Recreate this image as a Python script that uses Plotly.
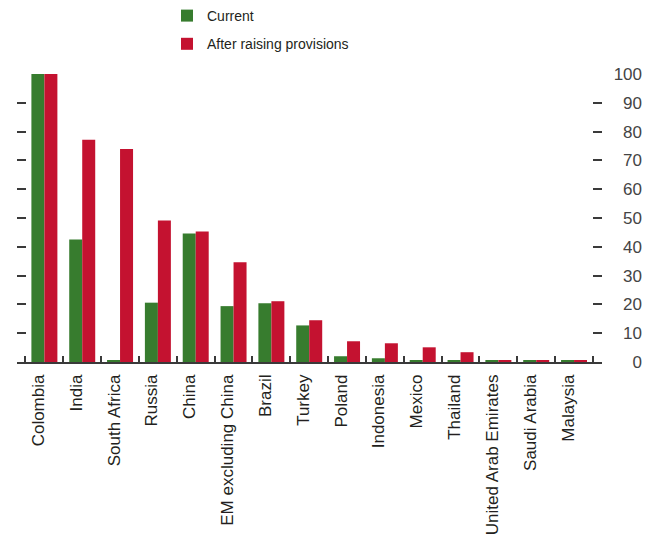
import plotly.graph_objects as go

categories = ["Colombia", "India", "South Africa", "Russia", "China", "EM excluding China",
              "Brazil", "Turkey", "Poland", "Indonesia", "Mexico", "Thailand",
              "United Arab Emirates", "Saudi Arabia", "Malaysia"]
current = [100, 42.5, 0.4, 20.6, 44.6, 19.4, 20.4, 12.7, 2.0, 1.3, 0.6, 0.6, 0.4, 0.4, 0.4]
after = [100, 77.2, 74.0, 49.1, 45.3, 34.6, 21.1, 14.5, 7.2, 6.5, 5.1, 3.4, 0.4, 0.4, 0.4]
y_ticks = [0, 10, 20, 30, 40, 50, 60, 70, 80, 90, 100]

FONT = "Liberation Sans"
GREEN = "#377C2E"
RED = "#C41230"
AX = "#3a3a3a"

fig = go.Figure()
fig.add_trace(go.Bar(x=categories, y=current, name="Current", marker_color=GREEN,
                     marker_line_width=0, legendgroup="a"))
fig.add_trace(go.Bar(x=categories, y=after, name="After raising provisions", marker_color=RED,
                     marker_line_width=0, legendgroup="b"))
# invisible helpers to activate the extra axes
fig.add_trace(go.Scatter(x=[categories[0]], y=[0], yaxis="y2", mode="markers",
                         marker=dict(opacity=0), showlegend=False, hoverinfo="skip"))
fig.add_trace(go.Scatter(x=[0], y=[0], xaxis="x2", yaxis="y3", mode="markers",
                         marker=dict(opacity=0), showlegend=False, hoverinfo="skip"))

# page body has an 8px margin, so the figure is laid out 8px up/left
W, H = 644, 531
left, right_axis, right_lab = 8.5, 594, 637
top, bottom = 66, 354
plot_w = right_lab - left
fig.update_layout(
    width=W, height=H,
    margin=dict(l=left, r=W - right_lab, t=top, b=H - bottom, autoexpand=False),
    paper_bgcolor="white", plot_bgcolor="rgba(0,0,0,0)",
    barmode="group", bargap=0.313, bargroupgap=0,
    font=dict(family=FONT, size=17, color="#231F20"),
    showlegend=True,
    legend=dict(xref="container", yref="container", x=159 / W, y=1 - 22 / H,
                xanchor="left", yanchor="middle", font=dict(size=14), tracegroupgap=7,
                bgcolor="rgba(0,0,0,0)"),
    xaxis=dict(domain=[0, (right_axis - left) / plot_w], range=[-0.724, 14.74],
               showline=True, linecolor=AX, linewidth=1.5,
               ticks="inside", ticklen=6, tickcolor=AX, tickwidth=1.5,
               tickson="boundaries", tickangle=-90, showgrid=False,
               ticklabelstandoff=4, ticklabelshift=-6, tickfont=dict(size=17)),
    xaxis2=dict(domain=[0, 1], range=[0, 1], visible=False, anchor="y3"),
    yaxis=dict(range=[0, 100], tickvals=y_ticks, showticklabels=False,
               ticks="inside", ticklen=9, tickcolor=AX, tickwidth=1.5,
               showgrid=False, zeroline=False, showline=False),
    yaxis2=dict(range=[0, 100], tickvals=y_ticks, showticklabels=False, overlaying="y",
                side="right", anchor="x",
                ticks="inside", ticklen=9, tickcolor=AX, tickwidth=1.5,
                showgrid=False, zeroline=False, showline=False),
    yaxis3=dict(range=[0, 100], tickvals=y_ticks, side="right", anchor="x2",
                ticklabelposition="inside", ticklabeloverflow="allow", ticks="",
                showgrid=False, zeroline=False, showline=False, tickfont=dict(size=17)),
)

fig.write_html("out.html")
